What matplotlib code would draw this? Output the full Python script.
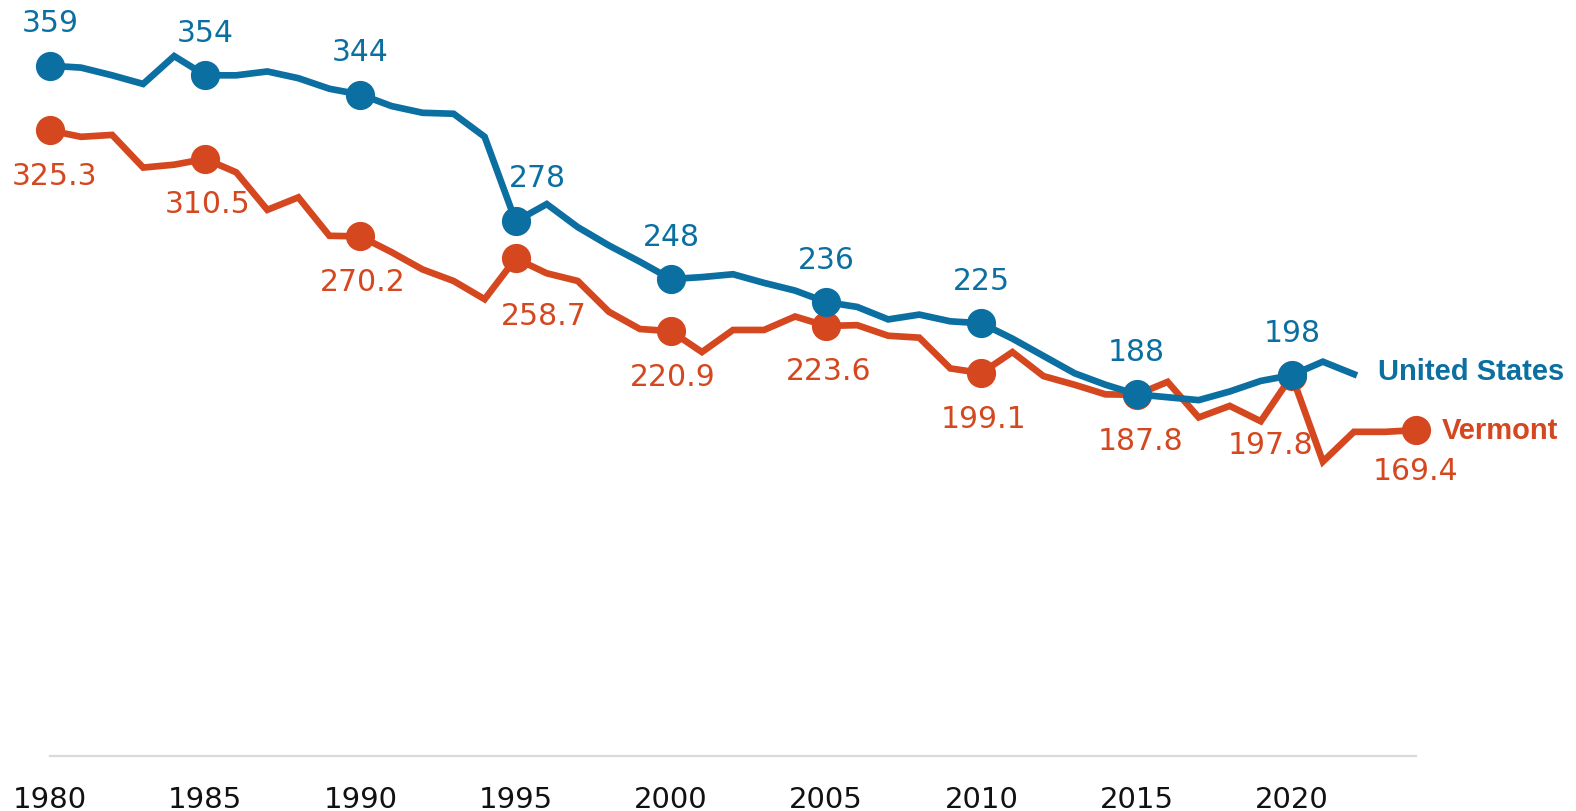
import matplotlib
matplotlib.use("Agg")
import matplotlib.pyplot as plt

# ---- data ----
us_years = list(range(1980, 2023))
us_values = [359, 358, 354, 349.5, 364, 354, 354, 356, 352.5, 347,
             344, 338, 334.5, 334, 322, 278, 287, 275, 265.5, 257,
             248, 249, 250.5, 246, 242, 236, 233.5, 227, 229.5, 226,
             225, 217, 208, 199, 193, 188, 186.5, 185, 189.5, 195,
             198, 205, 198.5]

vt_years = list(range(1980, 2025))
vt_values = [325.3, 322, 323, 306, 307.5, 310.5, 303.5, 284, 290.5, 270.5,
             270.2, 262, 253, 247, 237.5, 258.7, 251, 247, 231, 222,
             220.9, 210, 221.5, 221.5, 228.5, 223.6, 224, 218.5, 217.5, 201.5,
             199.1, 210, 197.5, 193, 188, 187.8, 194.5, 176, 182, 174,
             197.8, 153, 168.5, 168.5, 169.4]

us_marked_years = [1980, 1985, 1990, 1995, 2000, 2005, 2010, 2015, 2020]
vt_marked_years = [1980, 1985, 1990, 1995, 2000, 2005, 2010, 2015, 2020, 2024]
tick_years = [1980, 1985, 1990, 1995, 2000, 2005, 2010, 2015, 2020]
series_names = ["United States", "Vermont"]

# ---- style ----
US_COLOR = "#0b6fa1"
VT_COLOR = "#d4471f"
BASE_COLOR = "#d9d9d9"

W, H = 1576, 812
fig = plt.figure(figsize=(W / 100, H / 100), dpi=100)
left_px, right_px = 50, 1416
base_px = 812 - 756.7
px_per_unit = 1.922
ymax = 380
ax = fig.add_axes([left_px / W, base_px / H, (right_px - left_px) / W, ymax * px_per_unit / H])
ax.set_xlim(1980, 2024)
ax.set_ylim(0, ymax)

us_mark_idx = [us_years.index(y) for y in us_marked_years]
vt_mark_idx = [vt_years.index(y) for y in vt_marked_years]

ax.plot(vt_years, vt_values, color=VT_COLOR, lw=4.8, marker="o", ms=20,
        markevery=vt_mark_idx, clip_on=False, solid_joinstyle="miter", zorder=3)
ax.plot(us_years, us_values, color=US_COLOR, lw=4.8, marker="o", ms=20,
        markevery=us_mark_idx, clip_on=False, solid_joinstyle="miter", zorder=4)

label_font = dict(family="DejaVu Sans", size=21.5)

# US labels above markers
us_offsets = {1995: (22, 44)}
for y in us_marked_years:
    v = us_values[us_years.index(y)]
    dx, dy = us_offsets.get(y, (0, 43))
    ax.annotate(f"{v:.0f}", (y, v), xytext=(dx, dy), textcoords="offset pixels",
                ha="center", va="center", color=US_COLOR, zorder=5, **label_font)

# Vermont labels below markers
vt_offsets = {1980: (5, -45), 1995: (28, -57), 2015: (4, -46), 2020: (-21, -69), 2024: (0, -40)}
for y in vt_marked_years:
    v = vt_values[vt_years.index(y)]
    dx, dy = vt_offsets.get(y, (2, -45))
    ax.annotate(f"{v:.1f}", (y, v), xytext=(dx, dy), textcoords="offset pixels",
                ha="center", va="center", color=VT_COLOR, zorder=5, **label_font)

# series name labels at line ends
ax.annotate(series_names[0], (us_years[-1], us_values[-1]), xytext=(24, 3),
            textcoords="offset pixels", ha="left", va="center", color=US_COLOR,
            family="Liberation Sans", weight="bold", size=21, annotation_clip=False)
ax.annotate(series_names[1], (vt_years[-1], vt_values[-1]), xytext=(26, 0),
            textcoords="offset pixels", ha="left", va="center", color=VT_COLOR,
            family="Liberation Sans", weight="bold", size=21, annotation_clip=False)

# axes styling
for s in ["top", "right", "left"]:
    ax.spines[s].set_visible(False)
ax.spines["bottom"].set_color(BASE_COLOR)
ax.spines["bottom"].set_linewidth(1.6)
ax.set_yticks([])
ax.set_xticks(tick_years)
ax.set_xticklabels([str(t) for t in tick_years], family="DejaVu Sans", size=21, color="#111111")
ax.tick_params(axis="x", length=0, pad=21)
ax.patch.set_alpha(0)

fig.savefig("out.png", dpi=100)
